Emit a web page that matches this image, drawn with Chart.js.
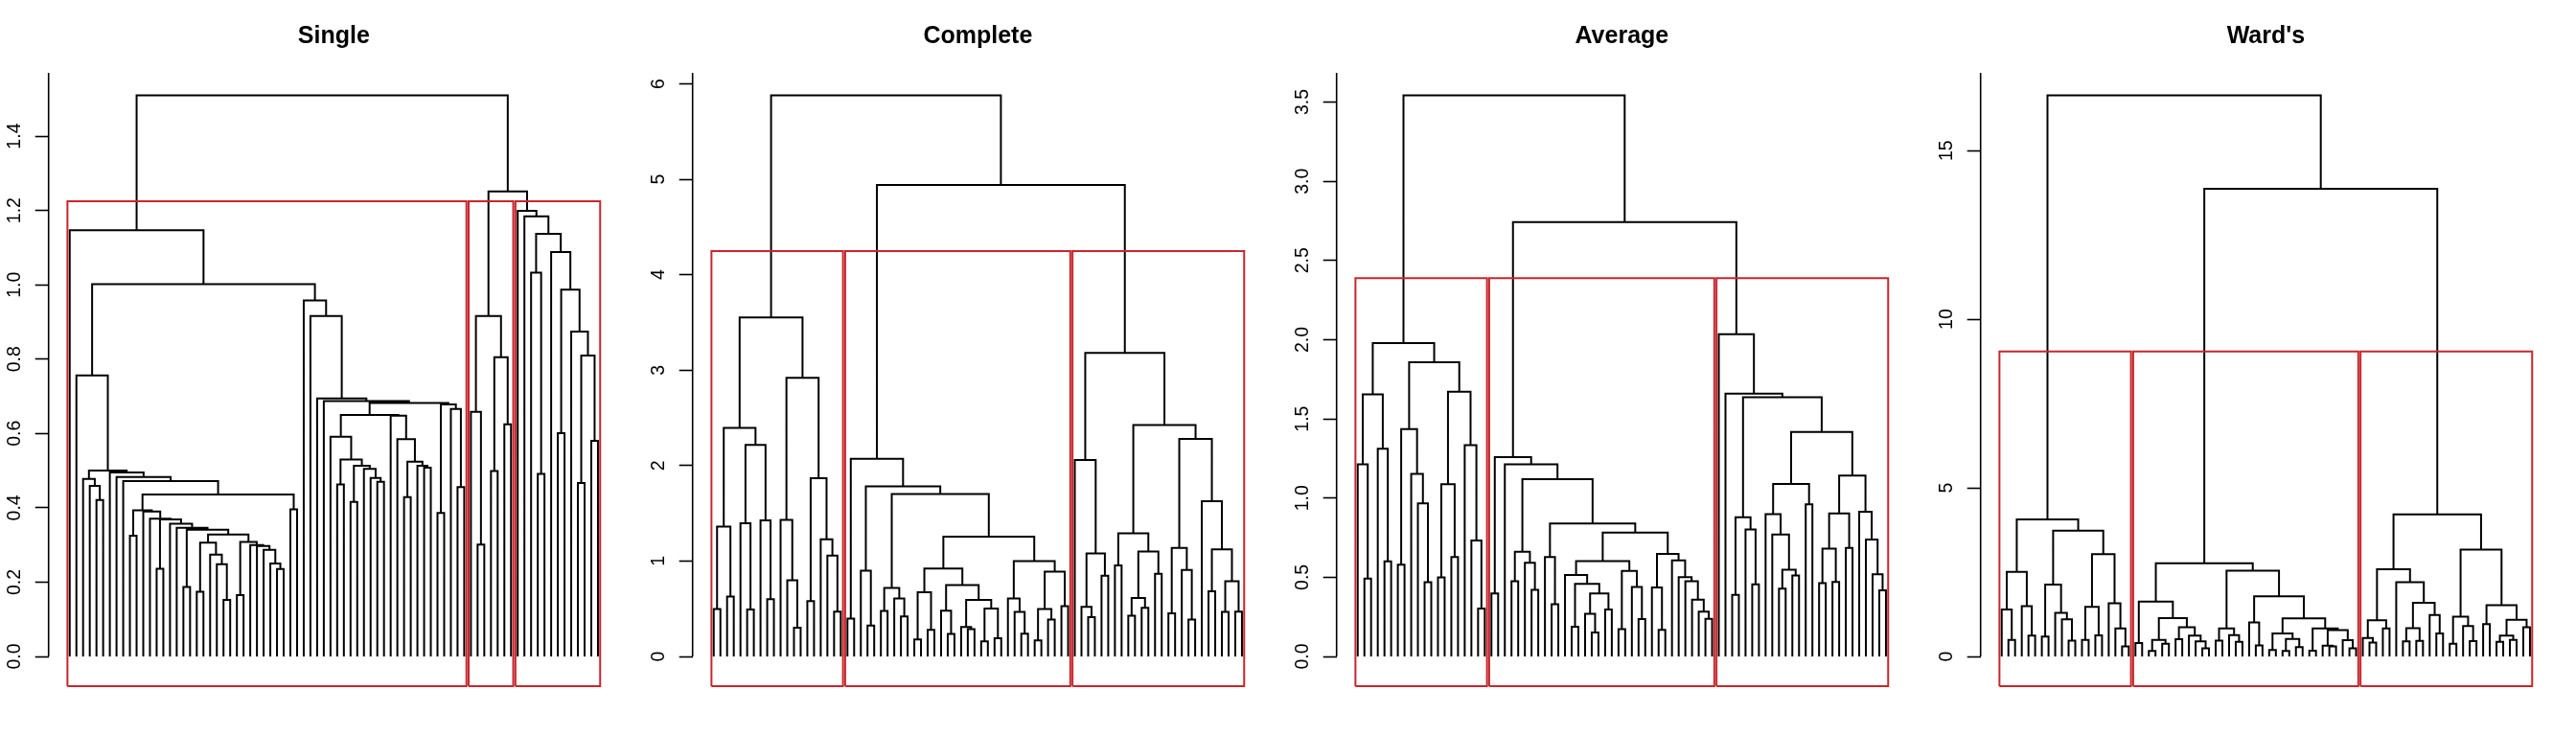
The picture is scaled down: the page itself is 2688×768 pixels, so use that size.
<!DOCTYPE html>
<html>
<head>
<meta charset="utf-8">
<script src="https://cdn.jsdelivr.net/npm/chart.js@4.4.0/dist/chart.umd.min.js"></script>
<style>
  body { margin: 0; background: #fff; }
  #wrapper { display: flex; width: 2688px; height: 768px; }
  canvas { display: block; }
</style>
</head>
<body>
<div id="wrapper">
  <canvas id="c0" width="672" height="768"></canvas>
  <canvas id="c1" width="672" height="768"></canvas>
  <canvas id="c2" width="672" height="768"></canvas>
  <canvas id="c3" width="672" height="768"></canvas>
</div>
<script>
// trees: a leaf is *, a merge is (left,right)height, leaves in plotted order

// Single linkage
const sA = "(*,(*,(*,*)0.421)0.459)0.478";
const sB = "((*,*)0.174,(*,(*,(*,*)0.152)0.248)0.274)0.306";
const sC = "((*,*)0.165,(*,(*,(*,(*,(*,*)0.235)0.25)0.287)0.297)0.3)0.308";
const sT = `(*,((*,*)0.236,(*,(*,((*,*)0.187,(${sB},${sC})0.328)0.341)0.346)0.357)0.369)0.371`;
const sLeft = `(*,(${sA},(*,(*,(*,(((*,*)0.325,(*,${sT})0.39)0.393,(*,*)0.396)0.436)0.472)0.483)0.495)0.5)0.756`;
const sX47 = "(*,((*,*)0.463,((*,*)0.416,(*,(*,(*,*)0.47)0.48)0.505)0.513)0.53)0.591";
const sX230 = "(*,(*,((*,*)0.429,(*,(*,*)0.508)0.513)0.524)0.585)0.648";
const sX385 = "((*,*)0.386,(*,(*,*)0.456)0.666)0.678";
const sRight = `(*,(*,(*,(*,((${sX47},${sX230})0.65,${sX385})0.682)0.687)0.694)0.916)0.958`;
const singleClusters = [
  `(*,(${sLeft},${sRight})1.002)1.147`,
  "((*,(*,*)0.301)0.658,((*,*)0.499,(*,*)0.625)0.805)0.916",
  "(*,(*,((*,(*,*)0.491)1.033,(*,((*,*)0.601,(*,((*,*)0.467,(*,*)0.58)0.81)0.874)0.987)1.088)1.137)1.184)1.199"
];
const singleTop = [1.251, 1.51];
const singleTicks = ["0.0", "0.2", "0.4", "0.6", "0.8", "1.0", "1.2", "1.4"];

// Complete linkage
const cN936 = "(((*,*)0.178,(*,*)0.278)0.674,((*,(*,*)0.235)0.479,((*,(*,*)0.285)0.31,((*,*)0.158,(*,*)0.191)0.503)0.593)0.748)0.922";
const cN227 = "((*,(*,(*,*)0.238)0.466)0.607,(((*,*)0.168,(*,*)0.386)0.496,(*,*)0.526)0.888)0.999";
const completeClusters = [
  "((((*,*)0.496,(*,*)0.627)1.361,((*,(*,*)0.493)1.395,(*,(*,*)0.6)1.425)2.216)2.394,((*,(*,(*,*)0.302)0.798)1.431,((*,*)0.58,(*,(*,(*,*)0.469)1.056)1.227)1.867)2.92)3.553",
  `((*,*)0.396,((*,(*,*)0.325)0.898,(((*,*)0.476,(*,(*,*)0.419)0.607)0.717,(${cN936},${cN227})1.254)1.703)1.783)2.072`,
  "((*,((*,(*,*)0.412)0.52,(*,*)0.845)1.079)2.058,(((*,*)0.955,(((*,*)0.426,(*,*)0.51)0.613,(*,*)0.865)1.1)1.291,(((*,*)0.453,(*,(*,*)0.386)0.905)1.136,(*,((*,*)0.684,((*,*)0.466,(*,*)0.469)0.788)1.123)1.626)2.28)2.424)3.181"
];
const completeTop = [4.94, 5.88];
const completeTicks = ["0", "1", "2", "3", "4", "5", "6"];

// Average linkage
const aN937 = "((*,*)0.188,((*,(*,*)0.152)0.269,(*,*)0.297)0.398)0.459";
const aN988 = `((*,${aN937})0.515,((*,*)0.172,(*,(*,*)0.236)0.439)0.54)0.602`;
const aN228 = "(*,(*,(*,(*,(*,(*,*)0.238)0.283)0.358)0.475)0.501)0.606";
const aN1088 = `(${aN988},((*,(*,*)0.168)0.435,${aN228})0.647)0.782`;
const aN523 = "(*,(*,((*,*)0.428,(*,*)0.511)0.548)0.77)0.899";
const aN731 = "(((*,*)0.463,(*,*)0.471)0.681,(*,*)0.685)0.903";
const aN814 = "(*,(*,(*,(*,*)0.418)0.519)0.738)0.914";
const averageClusters = [
  "(((*,(*,*)0.491)1.213,(*,(*,*)0.6)1.312)1.655,(((*,*)0.58,(*,(*,(*,*)0.469)0.966)1.152)1.435,(((*,*)0.499,(*,*)0.627)1.087,(*,(*,(*,*)0.303)0.732)1.334)1.671)1.857)1.979",
  `((*,*)0.398,(*,(((*,*)0.475,(*,(*,*)0.42)0.592)0.661,((*,(*,*)0.33)0.627,${aN1088})0.839)1.12)1.213)1.259`,
  `(*,(*,(((*,*)0.388,(*,(*,*)0.455)0.802)0.879,((${aN523},(*,*)0.96)1.089,(${aN731},${aN814})1.142)1.417)1.637)1.659)2.035`
];
const averageTop = [2.743, 3.543];
const averageTicks = ["0.0", "0.5", "1.0", "1.5", "2.0", "2.5", "3.0", "3.5"];

// Ward's
const wN629 = "((*,*)0.4,(((*,*)0.16,(*,*)0.38)0.49,((*,*)0.51,(*,(*,(*,*)0.24)0.45)0.62)0.87)1.14)1.63";
const wN139 = "(((*,*)0.19,((*,*)0.16,(*,*)0.28)0.52)0.68,((*,*)0.17,((*,(*,*)0.3)0.32,(*,(*,*)0.24)0.48)0.78)0.83)1.13";
const wardClusters = [
  "(((*,(*,*)0.49)1.39,(*,(*,*)0.62)1.49)2.51,(((*,*)0.59,(*,(*,(*,*)0.47)1.1)1.29)2.13,(((*,*)0.49,(*,*)0.625)1.47,(*,(*,(*,*)0.3)0.83)1.58)3.03)3.73)4.06",
  `(${wN629},(((*,*)0.47,(*,(*,*)0.43)0.63)0.83,((*,(*,*)0.33)1.01,${wN139})1.78)2.54)2.765`,
  "((((*,(*,*)0.41)0.55,(*,*)0.83)1.07,(*,(((*,*)0.445,(*,*)0.46)0.84,(*,(*,*)0.68)1.23)1.59)2.2)2.585,(((*,*)0.38,(*,(*,*)0.455)0.9)1.18,((*,*)0.96,(((*,*)0.43,(*,*)0.49)0.62,(*,*)0.87)1.09)1.52)3.17)4.21"
];
const wardTop = [13.87, 16.64];
const wardTicks = ["0", "5", "10", "15"];

const titles = ["Single", "Complete", "Average", "Ward's"];
const clusterSets = [singleClusters, completeClusters, averageClusters, wardClusters];
const tops = [singleTop, completeTop, averageTop, wardTop];
const tickSets = [singleTicks, completeTicks, averageTicks, wardTicks];

function parseTree(s) {
  let i = 0;
  function node() {
    if (s[i] === "*") { i++; return null; }
    i++;
    const l = node(); i++;
    const r = node(); i++;
    const j = i;
    while (i < s.length && /[0-9.]/.test(s[i])) i++;
    return { l: l, r: r, h: parseFloat(s.slice(j, i)) };
  }
  return node();
}

function layout(tree) {
  let leaf = 0;
  const segs = [], heights = [];
  function walk(n) {
    if (n === null) { leaf++; return { x: leaf, y: 0 }; }
    const a = walk(n.l), b = walk(n.r);
    segs.push({x: a.x, y: a.y}, {x: a.x, y: n.h}, {x: b.x, y: n.h}, {x: b.x, y: b.y}, {x: b.x, y: null});
    heights.push(n.h);
    return { x: (a.x + b.x) / 2, y: n.h };
  }
  walk(tree);
  return { segs: segs, heights: heights, n: leaf };
}

const axisPlugin = {
  id: "rAxis",
  afterDraw(chart) {
    const ys = chart.scales.y, ctx = chart.ctx;
    const labels = chart.options.plugins.rAxis.labels;
    ctx.save();
    ctx.strokeStyle = "#000";
    ctx.lineWidth = 1.6;
    ctx.beginPath();
    ctx.moveTo(ys.right, ys.getPixelForValue(0));
    ctx.lineTo(ys.right, chart.chartArea.top);
    ctx.stroke();
    ctx.fillStyle = "#000";
    ctx.font = '19.5px "Liberation Sans", Arial, sans-serif';
    ctx.textAlign = "center";
    ctx.textBaseline = "alphabetic";
    labels.forEach(function(t) {
      ctx.save();
      ctx.translate(20.7, ys.getPixelForValue(parseFloat(t)));
      ctx.rotate(-Math.PI / 2);
      ctx.fillText(t, 0, 0);
      ctx.restore();
    });
    ctx.restore();
  }
};

function makeChart(k) {
  const clusters = clusterSets[k];
  const top = tops[k];
  const tree = parseTree(`(${clusters[0]},(${clusters[1]},${clusters[2]})${top[0]})${top[1]}`);
  const lay = layout(tree);
  const n = lay.n;
  const yMax = top[1] * 1.04;
  const yMin = -yMax * 31 / 609;

  // rect.hclust style boxes
  const hs = lay.heights.slice().sort(function(a, b) { return b - a; });
  const boxTop = (hs[1] + hs[2]) / 2;
  const boxes = [];
  let start = 1;
  clusters.forEach(function(c) {
    const m = c.split("*").length - 1;
    const x0 = start - 0.34, x1 = start + m - 1 + 0.33;
    boxes.push({x: x0, y: yMin}, {x: x0, y: boxTop}, {x: x1, y: boxTop}, {x: x1, y: yMin}, {x: x0, y: yMin}, {x: x0, y: null});
    start += m;
  });

  const labels = tickSets[k];
  return new Chart("c" + k, {
    type: "scatter",
    data: {
      datasets: [
        { data: boxes, showLine: true, borderColor: "rgb(200,38,44)", borderWidth: 2, pointRadius: 0, spanGaps: false, clip: false },
        { data: lay.segs, showLine: true, borderColor: "#000", borderWidth: 2, pointRadius: 0, spanGaps: false }
      ]
    },
    options: {
      responsive: false,
      animation: false,
      devicePixelRatio: 1,
      events: [],
      layout: { padding: { left: 0, right: 26, top: 0, bottom: 52 } },
      plugins: {
        legend: { display: false },
        tooltip: { enabled: false },
        title: {
          display: true,
          text: titles[k],
          color: "#000",
          fullSize: false,
          font: { family: '"Liberation Sans", Arial, sans-serif', size: 25, weight: "bold", lineHeight: 1.2 },
          padding: { top: 23, bottom: 23 }
        },
        rAxis: { labels: labels }
      },
      scales: {
        x: { type: "linear", display: false, min: 1 - 0.04 * (n - 1), max: n + 0.04 * (n - 1) },
        y: {
          type: "linear",
          min: yMin,
          max: yMax,
          border: { display: false },
          grid: { drawOnChartArea: false, drawTicks: true, tickLength: 14, tickWidth: 1.6, tickColor: "#000" },
          ticks: { display: false },
          afterBuildTicks: function(s) { s.ticks = labels.map(function(t) { return { value: parseFloat(t) }; }); },
          afterFit: function(s) { s.width = 50.7; }
        }
      }
    },
    plugins: [axisPlugin]
  });
}

[0, 1, 2, 3].forEach(makeChart);
</script>
</body>
</html>
